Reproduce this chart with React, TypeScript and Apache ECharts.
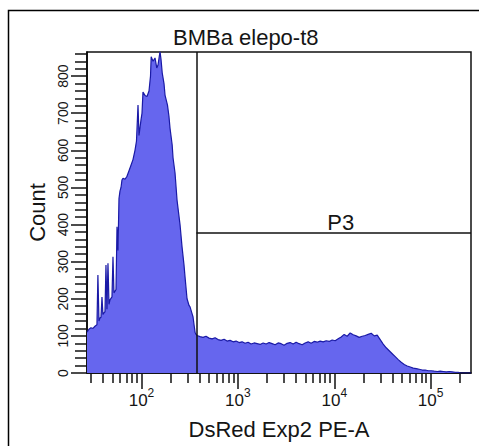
import React, { useEffect, useRef } from 'react';
import * as echarts from 'echarts';

const chartTitle = 'BMBa elepo-t8';
const xAxisName = 'DsRed Exp2 PE-A';
const yAxisName = 'Count';
const gateLabel = 'P3';

// histogram: channel value (DsRed Exp2 PE-A) and event count
const channelValues = [
  27.2, 28.5, 29.9, 31.4, 32.9, 34.5, 35.3, 36.2, 37.1, 38.0, 38.9, 39.8, 40.8, 41.8, 42.8, 43.8,
  44.9, 46.0, 47.1, 49.4, 50.6, 51.8, 54.4, 55.7, 57.0, 58.4, 59.8, 61.3, 62.7, 64.3, 67.4, 70.7,
  74.2, 77.8, 81.6, 85.6, 88.7, 92.0, 94.2, 98.8, 101.2, 103.6, 108.7, 114.1, 119.6, 124.0, 126.0,
  131.7, 138.1, 144.0, 148.3, 155.6, 159.4, 164.0, 171.2, 175.4, 186.0, 193.0, 197.6, 208.0, 212.4,
  222.8, 233.7, 251.0, 263.4, 276.3, 282.9, 296.8, 311.3, 318.9, 334.5, 342.6, 350.9, 359.4, 368.1,
  376.9, 405, 435, 467, 502, 540, 580, 623, 669, 719, 772, 830, 892, 958, 1029, 1106, 1188, 1276,
  1371, 1473, 1583, 1700, 1827, 1963, 2109, 2265, 2434, 2615, 2809, 3018, 3243, 3484, 3743, 4021,
  4320, 4642, 4987, 5358, 5757, 6185, 6644, 7139, 7669, 8240, 8852, 9510, 10218, 10977, 11794,
  12670, 13613, 14625, 15712, 16880, 18135, 19482, 20931, 22487, 24159, 25955, 27885, 29958,
  32186, 34579, 37150, 39912, 42880, 46068, 49493, 53173, 57127, 61374, 65938, 70840, 76107,
  81766, 87846, 94377, 101400, 108900, 117100, 125800, 135100, 145200, 156000, 167600, 180000,
  193400, 203000, 262144,
];
const eventCounts = [
  110, 118, 122, 120, 126, 130, 264, 140, 148, 150, 205, 158, 162, 165, 291, 172,
  296, 185, 197, 205, 313, 216, 225, 394, 330, 470, 490, 500, 520, 525, 522, 530,
  545, 560, 575, 600, 625, 722, 640, 682, 700, 757, 748, 745, 760, 800, 852,
  840, 849, 822, 830, 866, 845, 809, 780, 749, 722, 690, 660, 615, 580,
  539, 466, 400, 340, 290, 259, 200, 182, 178, 160, 151, 130, 110, 104,
  101, 98, 96, 99, 94, 92, 95, 90, 88, 91, 86, 88, 84, 86, 82, 84, 80, 83,
  78, 81, 79, 77, 81, 78, 82, 79, 76, 81, 79, 75, 80, 82, 78, 83,
  79, 76, 81, 84, 80, 85, 83, 86, 84, 87, 85, 89, 87, 92, 97,
  104, 99, 108, 103, 100, 96, 99, 101, 104, 107, 100, 102, 90,
  78, 68, 60, 52, 44, 36, 29, 23, 19, 16, 13, 12, 10,
  8, 8, 6, 6, 5, 4, 5, 4, 3, 4, 3, 2,
  2, 0, 0,
];

const xMajorTicks = [100, 1000, 10000, 100000];
const xMinorTicks = [
  30, 40, 50, 60, 70, 80, 90,
  200, 300, 400, 500, 600, 700, 800, 900,
  2000, 3000, 4000, 5000, 6000, 7000, 8000, 9000,
  20000, 30000, 40000, 50000, 60000, 70000, 80000, 90000,
  200000,
];
const yMajorTicks = [0, 100, 200, 300, 400, 500, 600, 700, 800];
const yMinorTicks = [
  20, 40, 60, 80, 120, 140, 160, 180, 220, 240, 260, 280, 320, 340, 360, 380,
  420, 440, 460, 480, 520, 540, 560, 580, 620, 640, 660, 680, 720, 740, 760, 780,
  820, 840, 860,
];

const xMin = 27.2;
const xMax = 262144;
const yMax = 865;
const gateX = 372;
const gateY = 377;

const FONT = '"Liberation Sans", Arial, Helvetica, sans-serif';
const TXT = '#151515';

export default function App() {
  const ref = useRef<HTMLDivElement>(null);
  useEffect(() => {
    if (!ref.current) return;
    const chart = echarts.init(ref.current, undefined, { renderer: 'svg' });
    const data = channelValues.map((c, i) => [c, eventCounts[i]]);
    const baseX = {
      type: 'log' as const,
      logBase: 10,
      min: xMin,
      max: xMax,
      position: 'bottom' as const,
      splitLine: { show: false },
      minorSplitLine: { show: false },
    };
    const baseY = {
      type: 'value' as const,
      min: 0,
      max: yMax,
      position: 'left' as const,
      splitLine: { show: false },
    };
    chart.setOption({
      animation: false,
      backgroundColor: '#ffffff',
      title: {
        text: chartTitle,
        left: 173,
        top: 26,
        padding: 0,
        textStyle: { fontSize: 22, fontWeight: 'normal', fontFamily: FONT, color: TXT },
      },
      graphic: [
        {
          type: 'rect',
          z: -10,
          shape: { x: 8.5, y: 10.5, width: 490, height: 460 },
          style: { fill: 'none', stroke: '#000', lineWidth: 1.5 },
        },
      ],
      grid: {
        left: 87,
        right: 8,
        top: 52,
        bottom: 73,
        show: true,
        borderColor: '#111',
        borderWidth: 1.5,
        backgroundColor: '#fff',
      },
      xAxis: [
        {
          ...baseX,
          axisLine: { show: true, onZero: false, lineStyle: { color: '#000', width: 1.5 } },
          axisTick: { show: true, customValues: xMajorTicks, length: 16, lineStyle: { color: '#111', width: 1.5 } },
          axisLabel: {
            show: true,
            customValues: xMajorTicks,
            margin: 14,
            formatter: (v: number) => `{b|10}{s|${Math.round(Math.log10(v))}}`,
            rich: {
              b: { fontSize: 17, lineHeight: 22, verticalAlign: 'bottom', fontFamily: FONT, color: TXT },
              s: { fontSize: 12, lineHeight: 12, verticalAlign: 'top', fontFamily: FONT, color: TXT },
            },
          },
          name: xAxisName,
          nameLocation: 'middle',
          nameGap: 45,
          nameTextStyle: { fontSize: 22, fontFamily: FONT, color: TXT },
        },
        {
          ...baseX,
          axisLine: { show: false },
          axisTick: { show: true, customValues: xMinorTicks, length: 10, lineStyle: { color: '#111', width: 1.5 } },
          axisLabel: { show: false },
        },
      ],
      yAxis: [
        {
          ...baseY,
          axisLine: { show: true, onZero: false, lineStyle: { color: '#000', width: 1.5 } },
          axisTick: { show: true, customValues: yMajorTicks, length: 16, lineStyle: { color: '#111', width: 1.5 } },
          axisLabel: {
            show: true,
            customValues: yMajorTicks,
            rotate: 90,
            margin: 17,
            fontSize: 14,
            fontFamily: FONT,
            color: TXT,
          },
          name: yAxisName,
          nameLocation: 'middle',
          nameGap: 38,
          nameRotate: 90,
          nameTextStyle: { fontSize: 22, fontFamily: FONT, color: TXT },
        },
        {
          ...baseY,
          axisLine: { show: false },
          axisTick: { show: true, customValues: yMinorTicks, length: 12, lineStyle: { color: '#111', width: 1.5 } },
          axisLabel: { show: false },
        },
      ],
      series: [
        {
          type: 'line',
          xAxisIndex: 0,
          yAxisIndex: 0,
          data,
          showSymbol: false,
          symbol: 'none',
          lineStyle: { color: '#1a1aa6', width: 1.2 },
          areaStyle: { color: '#6666ee', opacity: 1 },
          z: 2,
          markLine: {
            silent: true,
            symbol: ['none', 'none'],
            animation: false,
            lineStyle: { color: '#111', width: 1.5, type: 'solid' },
            label: { show: false },
            data: [
              [{ coord: [gateX, 0] }, { coord: [gateX, yMax] }],
              [
                {
                  coord: [gateX, gateY],
                  label: {
                    show: true,
                    formatter: gateLabel,
                    position: 'middle',
                    distance: 0,
                    offset: [7, 0],
                    fontSize: 22,
                    fontFamily: FONT,
                    color: TXT,
                  },
                },
                { coord: [xMax, gateY] },
              ],
            ],
          },
        },
      ],
    });
    return () => chart.dispose();
  }, []);
  return (
    <div
      ref={ref}
      style={{ position: 'fixed', left: 0, top: 0, width: 479, height: 446, background: '#fff' }}
    />
  );
}
